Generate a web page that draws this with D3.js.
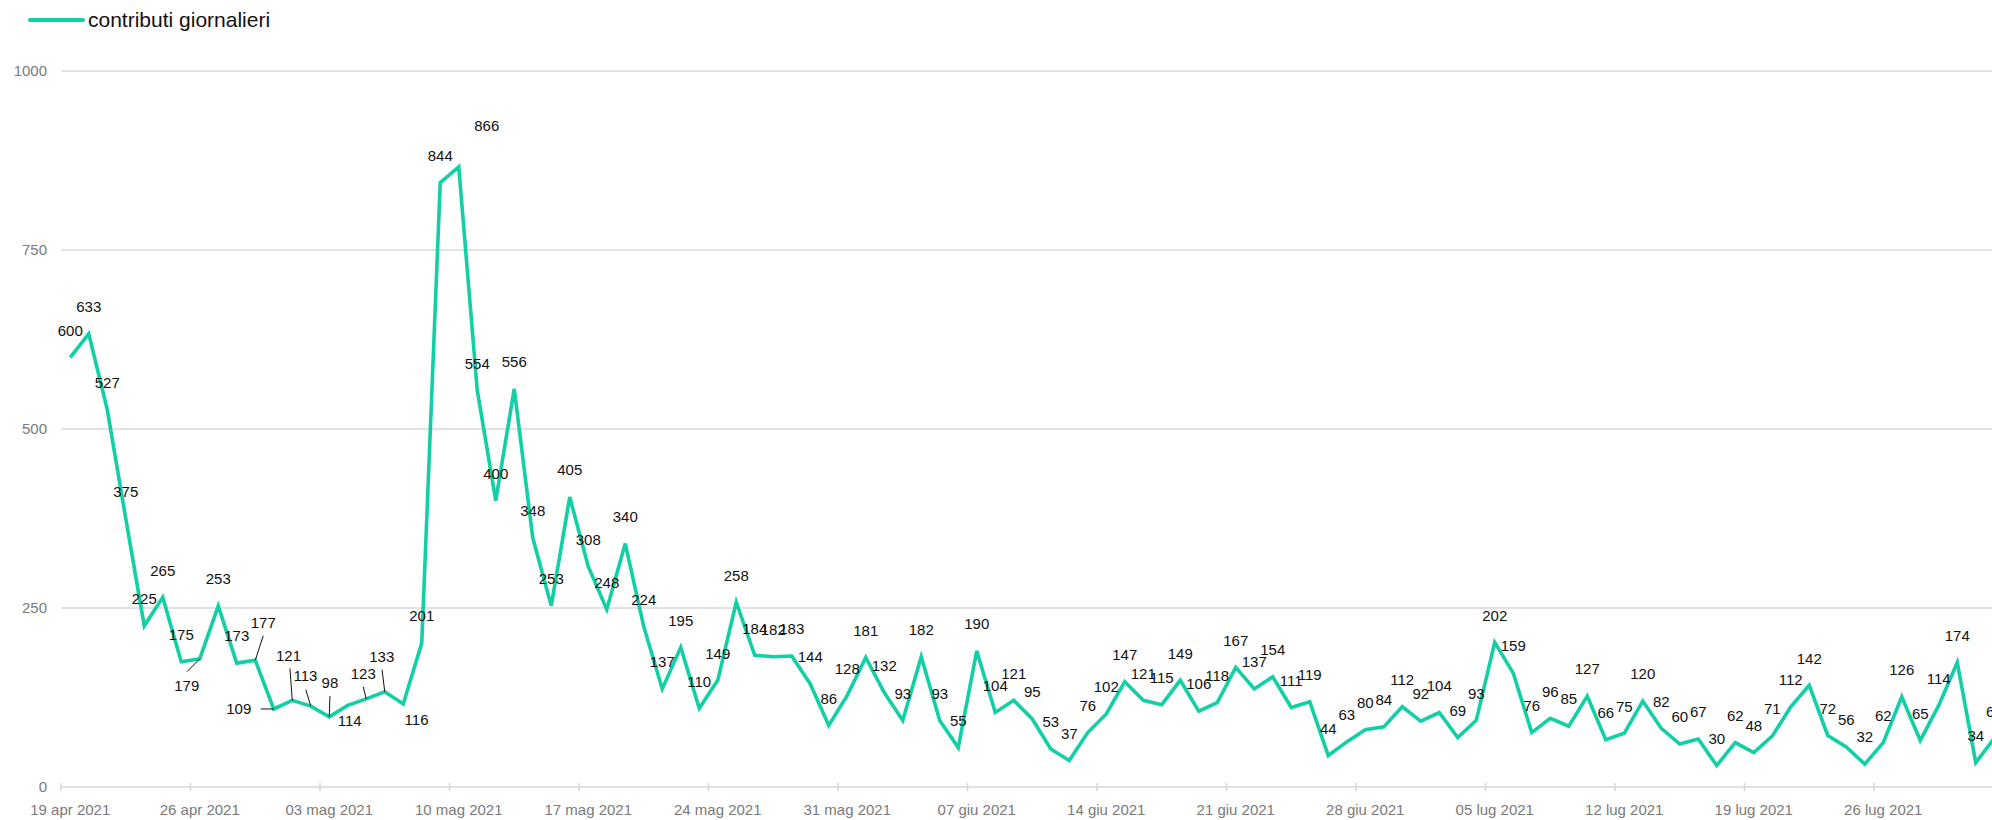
<!DOCTYPE html>
<html>
<head>
<meta charset="utf-8">
<script src="https://cdn.jsdelivr.net/npm/d3@7"></script>
<style>
  html, body { margin: 0; padding: 0; background: #fff; overflow: hidden; }
  svg { display: block; font-family: "Liberation Sans", Arial, sans-serif; }
</style>
</head>
<body>
<svg id="chart" width="1992" height="820"></svg>
<script>
// ---------- DATA ----------
const seriesName = "contributi giornalieri";
const startDate = "2021-04-19";
const values = [
  600, 633, 527, 375, 225, 265, 175, 179, 253, 173,
  177, 109, 121, 113, 98, 114, 123, 133, 116, 201,
  844, 866, 554, 400, 556, 348, 253, 405, 308, 248,
  340, 224, 137, 195, 110, 149, 258, 184, 182, 183,
  144, 86, 128, 181, 132, 93, 182, 93, 55, 190,
  104, 121, 95, 53, 37, 76, 102, 147, 121, 115,
  149, 106, 118, 167, 137, 154, 111, 119, 44, 63,
  80, 84, 112, 92, 104, 69, 93, 202, 159, 76,
  96, 85, 127, 66, 75, 120, 82, 60, 67, 30,
  62, 48, 71, 112, 142, 72, 56, 32, 62, 126,
  65, 114, 174, 34, 68
];
const xTickDates = [
  "2021-04-19", "2021-04-26", "2021-05-03", "2021-05-10", "2021-05-17",
  "2021-05-24", "2021-05-31", "2021-06-07", "2021-06-14", "2021-06-21",
  "2021-06-28", "2021-07-05", "2021-07-12", "2021-07-19", "2021-07-26"
];
const xTickLabels = [
  "19 apr 2021", "26 apr 2021", "03 mag 2021", "10 mag 2021", "17 mag 2021",
  "24 mag 2021", "31 mag 2021", "07 giu 2021", "14 giu 2021", "21 giu 2021",
  "28 giu 2021", "05 lug 2021", "12 lug 2021", "19 lug 2021", "26 lug 2021"
];
const yTicks = [0, 250, 500, 750, 1000];

// label placement nudges (layout only): index -> label centre offset and leader end
const labelNudges = {
  7:  { dx: -13, dy: 27, lx: -12.7, ly: 12.8 },
  10: { dx: 8, dy: -37.6, lx: 8, ly: -24.5 },
  11: { dx: -35, dy: 0, lx: -13, ly: 0 },
  12: { dx: -3.7, dy: -44.8, lx: -2.3, ly: -32 },
  13: { dx: -5.3, dy: -30, lx: -5, ly: -16.5 },
  14: { dx: 0.7, dy: -34.5, lx: 0.7, ly: -20.7 },
  15: { dx: 2, dy: 15 },
  16: { dx: -3, dy: -24.8, lx: -3, ly: -12 },
  17: { dx: -3, dy: -35, lx: -2.7, ly: -22 },
  18: { dx: 13.3, dy: 15.5 },
  21: { dx: 28, dy: -41 }
};

// ---------- CHART ----------
const svg = d3.select("#chart");
const W = 1992, H = 820;
const parse = d3.utcParse("%Y-%m-%d");
const start = parse(startDate);
const dates = values.map((v, i) => d3.utcDay.offset(start, i));
const halfDay = 12 * 3600 * 1000;

const x = d3.scaleUtc()
  .domain([parse(xTickDates[0]), parse(xTickDates[xTickDates.length - 1])])
  .range([61, 1874]);
const y = d3.scaleLinear().domain([0, 1000]).range([787, 71]);

const gridColor = "#d9d9d9";
const lineColor = "#13cfa6";

// gridlines
svg.append("g").selectAll("line").data(yTicks).join("line")
  .attr("x1", 61).attr("x2", W)
  .attr("y1", d => y(d)).attr("y2", d => y(d))
  .attr("stroke", gridColor).attr("stroke-width", 1.6);

// y labels
svg.append("g").selectAll("text").data(yTicks).join("text")
  .attr("x", 47).attr("y", d => y(d) + 5.3)
  .attr("text-anchor", "end")
  .attr("font-size", 15).attr("fill", "#7a7a7a")
  .text(d => d);

// x ticks
const tickDates = xTickDates.map(parse);
svg.append("g").selectAll("line").data(tickDates).join("line")
  .attr("x1", d => x(d)).attr("x2", d => x(d))
  .attr("y1", y(0) - 4).attr("y2", y(0) + 4)
  .attr("stroke", gridColor).attr("stroke-width", 1.6);

svg.append("g").selectAll("text").data(tickDates).join("text")
  .attr("x", d => x(new Date(+d + halfDay)))
  .attr("y", 815)
  .attr("text-anchor", "middle")
  .attr("font-size", 15).attr("fill", "#7a7a7a")
  .text((d, i) => xTickLabels[i]);

// line
const px = (d, i) => x(new Date(+dates[i] + halfDay));
const line = d3.line()
  .x((d, i) => px(d, i))
  .y(d => y(d));
svg.append("path")
  .datum(values)
  .attr("d", line)
  .attr("fill", "none")
  .attr("stroke", lineColor)
  .attr("stroke-width", 3.6)
  .attr("stroke-linejoin", "miter");

// leader lines
const leaderIdx = Object.keys(labelNudges).map(Number).filter(i => labelNudges[i].lx !== undefined);
svg.append("g").selectAll("line").data(leaderIdx).join("line")
  .attr("x1", i => px(values[i], i))
  .attr("y1", i => y(values[i]))
  .attr("x2", i => px(values[i], i) + labelNudges[i].lx)
  .attr("y2", i => y(values[i]) + labelNudges[i].ly)
  .attr("stroke", "#111").attr("stroke-width", 1);

// value labels
svg.append("g").selectAll("text").data(values).join("text")
  .attr("x", (d, i) => px(d, i) + (labelNudges[i] ? labelNudges[i].dx : 0))
  .attr("y", (d, i) => y(d) + (labelNudges[i] ? labelNudges[i].dy : -27) + 5.3)
  .attr("text-anchor", "middle")
  .attr("font-size", 15).attr("fill", "#111")
  .text(d => d);

// legend
const lg = svg.append("g");
lg.append("line").attr("x1", 30).attr("x2", 83).attr("y1", 20).attr("y2", 20)
  .attr("stroke", lineColor).attr("stroke-width", 4).attr("stroke-linecap", "round");
lg.append("text").attr("x", 88).attr("y", 27)
  .attr("font-size", 21).attr("fill", "#111")
  .text(seriesName);
</script>
</body>
</html>
